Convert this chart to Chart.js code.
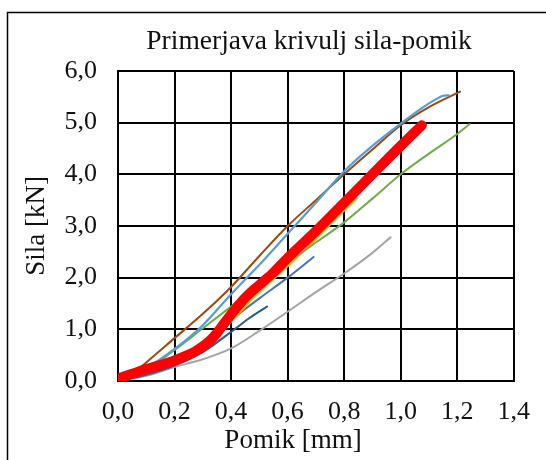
<!DOCTYPE html>
<html>
<head>
<meta charset="utf-8">
<script src="https://cdn.jsdelivr.net/npm/chart.js@4/dist/chart.umd.min.js"></script>
<style>
  html, body { margin: 0; padding: 0; background: #ffffff; }
  #wrap { width: 546px; height: 460px; position: relative; }
</style>
</head>
<body>
<div id="wrap"><canvas id="c" width="546" height="460"></canvas></div>
<script>
const chartTitle = 'Primerjava krivulj sila-pomik';
const xAxisTitle = 'Pomik [mm]';
const yAxisTitle = 'Sila [kN]';
const xTickValues = [0, 0.2, 0.4, 0.6, 0.8, 1.0, 1.2, 1.4];
const xTickLabels = ['0,0', '0,2', '0,4', '0,6', '0,8', '1,0', '1,2', '1,4'];
const yTickValues = [0, 1, 2, 3, 4, 5, 6];
const yTickLabels = ['0,0', '1,0', '2,0', '3,0', '4,0', '5,0', '6,0'];

// Series (x = pomik [mm], y = sila [kN])
const redX = [0.00, 0.05, 0.10, 0.15, 0.20, 0.25, 0.275, 0.30, 0.325, 0.35, 0.375, 0.40, 0.45, 0.50, 0.55, 0.60, 0.70, 0.80, 0.90, 1.00, 1.075];
const redY = [0.05, 0.14, 0.23, 0.31, 0.40, 0.51, 0.58, 0.67, 0.78, 0.93, 1.11, 1.29, 1.61, 1.86, 2.10, 2.38, 2.90, 3.45, 4.00, 4.55, 4.95];

const lightBlueX = [0.00, 0.10, 0.20, 0.30, 0.40, 0.50, 0.60, 0.70, 0.80, 0.90, 1.00, 1.08, 1.13, 1.15, 1.17];
const lightBlueY = [0.00, 0.25, 0.62, 1.08, 1.68, 2.25, 2.85, 3.45, 4.06, 4.55, 4.98, 5.30, 5.47, 5.52, 5.53];

const brownX = [0.02, 0.10, 0.20, 0.30, 0.40, 0.50, 0.60, 0.70, 0.80, 0.90, 1.00, 1.10, 1.21];
const brownY = [0.00, 0.36, 0.83, 1.30, 1.82, 2.42, 3.00, 3.50, 4.00, 4.48, 4.95, 5.30, 5.60];

const greenX = [0.00, 0.10, 0.20, 0.30, 0.40, 0.50, 0.60, 0.70, 0.80, 0.90, 1.00, 1.10, 1.20, 1.243];
const greenY = [0.00, 0.22, 0.60, 1.02, 1.44, 1.86, 2.28, 2.68, 3.07, 3.53, 4.00, 4.40, 4.78, 4.97];

const yellowX = [0.00, 0.10, 0.20, 0.30, 0.40, 0.46, 0.50, 0.60, 0.70, 0.80, 0.845];
const yellowY = [0.00, 0.20, 0.38, 0.62, 1.15, 1.50, 1.72, 2.22, 2.75, 3.30, 3.54];

const blueX = [0.00, 0.10, 0.20, 0.30, 0.40, 0.50, 0.60, 0.692];
const blueY = [0.00, 0.14, 0.35, 0.70, 1.18, 1.60, 2.00, 2.40];

const darkBlueX = [0.00, 0.10, 0.20, 0.30, 0.40, 0.46, 0.527];
const darkBlueY = [0.00, 0.12, 0.30, 0.56, 0.95, 1.20, 1.44];

const grayX = [0.00, 0.10, 0.20, 0.30, 0.40, 0.50, 0.60, 0.70, 0.80, 0.90, 0.964];
const grayY = [0.00, 0.10, 0.27, 0.42, 0.63, 0.97, 1.34, 1.72, 2.08, 2.48, 2.78];

function pts(xs, ys) { return xs.map((x, i) => ({ x: x, y: ys[i] })); }

const FONT = '"Liberation Serif", "Times New Roman", serif';
const TEXT = '#111111';

function line(data, color, width) {
  return {
    data: data,
    borderColor: color,
    backgroundColor: color,
    borderWidth: width,
    pointRadius: 0,
    pointHoverRadius: 0,
    showLine: true,
    fill: false,
    cubicInterpolationMode: 'monotone',
    borderCapStyle: 'round',
    borderJoinStyle: 'round'
  };
}

const framePlugin = {
  id: 'frameAndTitles',
  beforeDraw(chart) {
    const ctx = chart.ctx;
    ctx.save();
    ctx.fillStyle = '#ffffff';
    ctx.fillRect(0, 0, chart.width, chart.height);
    ctx.strokeStyle = '#000000';
    ctx.lineWidth = 1.5;
    ctx.strokeRect(7.5, 12.5, 700, 700);
    ctx.restore();
  },
  afterDraw(chart) {
    const ctx = chart.ctx;
    ctx.save();
    ctx.fillStyle = TEXT;
    ctx.textAlign = 'center';
    ctx.textBaseline = 'middle';
    ctx.font = '27.5px ' + FONT;
    ctx.fillText(chartTitle, 309, 42);
    ctx.font = '27px ' + FONT;
    ctx.fillText(xAxisTitle, 293, 441);
    ctx.restore();
  }
};

new Chart(document.getElementById('c'), {
  type: 'scatter',
  data: {
    datasets: [
      line(pts(redX, redY), '#FF0000', 10),
      line(pts(lightBlueX, lightBlueY), '#5B9BD5', 2.2),
      line(pts(brownX, brownY), '#9E480E', 2),
      line(pts(greenX, greenY), '#70AD47', 2),
      line(pts(yellowX, yellowY), '#FFC000', 2),
      line(pts(blueX, blueY), '#4472C4', 2),
      line(pts(darkBlueX, darkBlueY), '#255E91', 2),
      line(pts(grayX, grayY), '#A5A5A5', 2)
    ]
  },
  options: {
    responsive: false,
    animation: false,
    events: [],
    layout: { padding: { left: 8, right: 24, top: 71, bottom: 0 } },
    plugins: {
      legend: { display: false },
      title: { display: false },
      tooltip: { enabled: false }
    },
    scales: {
      x: {
        type: 'linear',
        min: 0,
        max: 1.4,
        afterBuildTicks(scale) { scale.ticks = xTickValues.map(v => ({ value: v })); },
        afterFit(scale) { scale.height = 79; },
        grid: { color: '#000000', lineWidth: 2, drawTicks: false },
        border: { display: true, color: '#000000', width: 2 },
        ticks: {
          padding: 16,
          color: TEXT,
          font: { family: FONT, size: 26 },
          maxRotation: 0,
          autoSkip: false,
          callback: (v, i) => xTickLabels[i]
        },
        title: { display: false, text: xAxisTitle }
      },
      y: {
        type: 'linear',
        min: 0,
        max: 6,
        afterBuildTicks(scale) { scale.ticks = yTickValues.map(v => ({ value: v })); },
        afterFit(scale) { scale.width = 110; },
        grid: { color: '#000000', lineWidth: 2, drawTicks: false },
        border: { display: true, color: '#000000', width: 2 },
        ticks: {
          padding: 21,
          color: TEXT,
          font: { family: FONT, size: 26 },
          autoSkip: false,
          callback: (v, i) => yTickLabels[i]
        },
        title: {
          display: true,
          text: yAxisTitle,
          color: TEXT,
          font: { family: FONT, size: 27 },
          padding: { top: 13, bottom: 0 }
        }
      }
    }
  },
  plugins: [framePlugin]
});
</script>
</body>
</html>
